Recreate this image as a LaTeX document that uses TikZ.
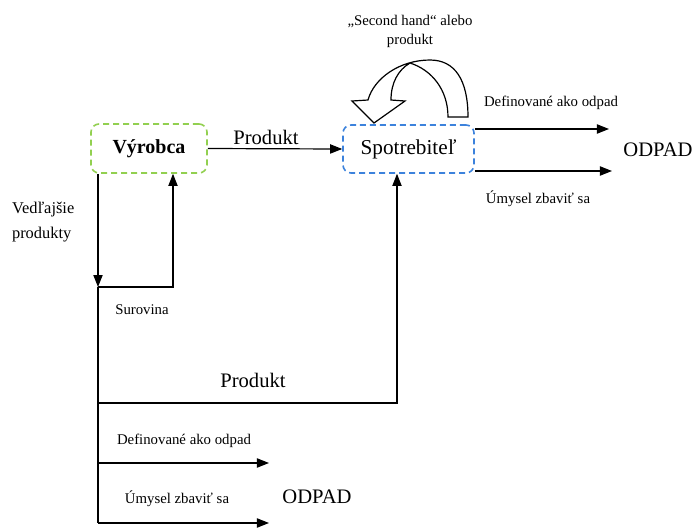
\documentclass[tikz,border=0pt]{standalone}
\usepackage{fontspec}
\setmainfont{Liberation Serif}
\usetikzlibrary{arrows.meta}

\definecolor{boxgreen}{RGB}{146,208,80}
\definecolor{boxblue}{RGB}{60,130,220}

\begin{document}
\begin{tikzpicture}[x=0.5pt,y=-0.5pt,
    flow/.style={draw=black, line width=0.6pt},
    arr/.style={flow, -{Triangle[length=6pt,width=4.6pt]}},
    actor/.style={rounded corners=4pt, dash pattern=on 3pt off 2pt, line width=0.8pt, inner sep=0pt},
    big/.style={font=\fontsize{10.3}{12}\selectfont},
    small/.style={font=\fontsize{7.4}{9.5}\selectfont}]
    \useasboundingbox (0,0) rectangle (693,527);
    \node[actor, draw=boxgreen, minimum width=58pt, minimum height=24.5pt, font=\bfseries\fontsize{10}{12}\selectfont] (vyrobca) at (149,148.5) {Výrobca};
    \node[actor, draw=boxblue, minimum width=65.5pt, minimum height=24pt, font=\fontsize{10.6}{12}\selectfont] (spotrebitel) at (408.5,149) {Spotrebiteľ};
    \coordinate (j1) at (98,287);
    \coordinate (sret) at (173,287);
    \coordinate (j2) at (98,403);
    \coordinate (sp) at (397,403);
    \coordinate (j3) at (98,463);
    \coordinate (j4) at (98,523);
    \coordinate (o1) at (269,463);
    \coordinate (o2) at (269,523);
    \coordinate (d1) at (609,129);
    \coordinate (d2) at (612,171);
    % toky
    \draw[arr] (vyrobca.east) -- (spotrebitel.west);
    \draw[arr] (vyrobca.south -| j1) -- (j1);
    \draw[arr] (j1) -- (sret) -- (vyrobca.south -| sret);
    \draw[flow] (j1) -- (j4);
    \draw[arr] (j2) -- (sp) -- (spotrebitel.south -| sp);
    \draw[arr] (j3) -- (o1);
    \draw[arr] (j4) -- (o2);
    \draw[arr] (spotrebitel.east |- d1) -- (d1);
    \draw[arr] (spotrebitel.east |- d2) -- (d2);
    % zakrivena sipka
    \draw[line width=0.6pt, fill=white] (448,117) -- (468,117) .. controls (468,80) and (455,60) .. (430,60)
        .. controls (400,60) and (374,78) .. (368,100) -- (352,101) -- (374,123) -- (405,101) -- (391,100)
        .. controls (391,83) and (398,70) .. (410,63) .. controls (432,70) and (448,90) .. (448,117) -- cycle;
    % popisy
    \node[big] (prod1) at (266,137) {Produkt};
    \node[big] (prod2) at (253,380) {Produkt};
    \node[small, align=center] (second) at (410,31) {„Second hand“ alebo\\produkt};
    \node[small] (def1) at (551,103) {Definované ako odpad};
    \node[small] (umy1) at (538,199) {Úmysel zbaviť sa};
    \node[big] (odpad1) at (658,150) {ODPAD};
    \node[font=\fontsize{8.2}{12.5}\selectfont, align=left, anchor=west] (vedl) at (5,222) {Vedľajšie\\produkty};
    \node[small] (surovina) at (142,310) {Surovina};
    \node[small] (def2) at (184,441) {Definované ako odpad};
    \node[small] (umy2) at (177,499) {Úmysel zbaviť sa};
    \node[big] (odpad2) at (317,497) {ODPAD};
\end{tikzpicture}
\end{document}
